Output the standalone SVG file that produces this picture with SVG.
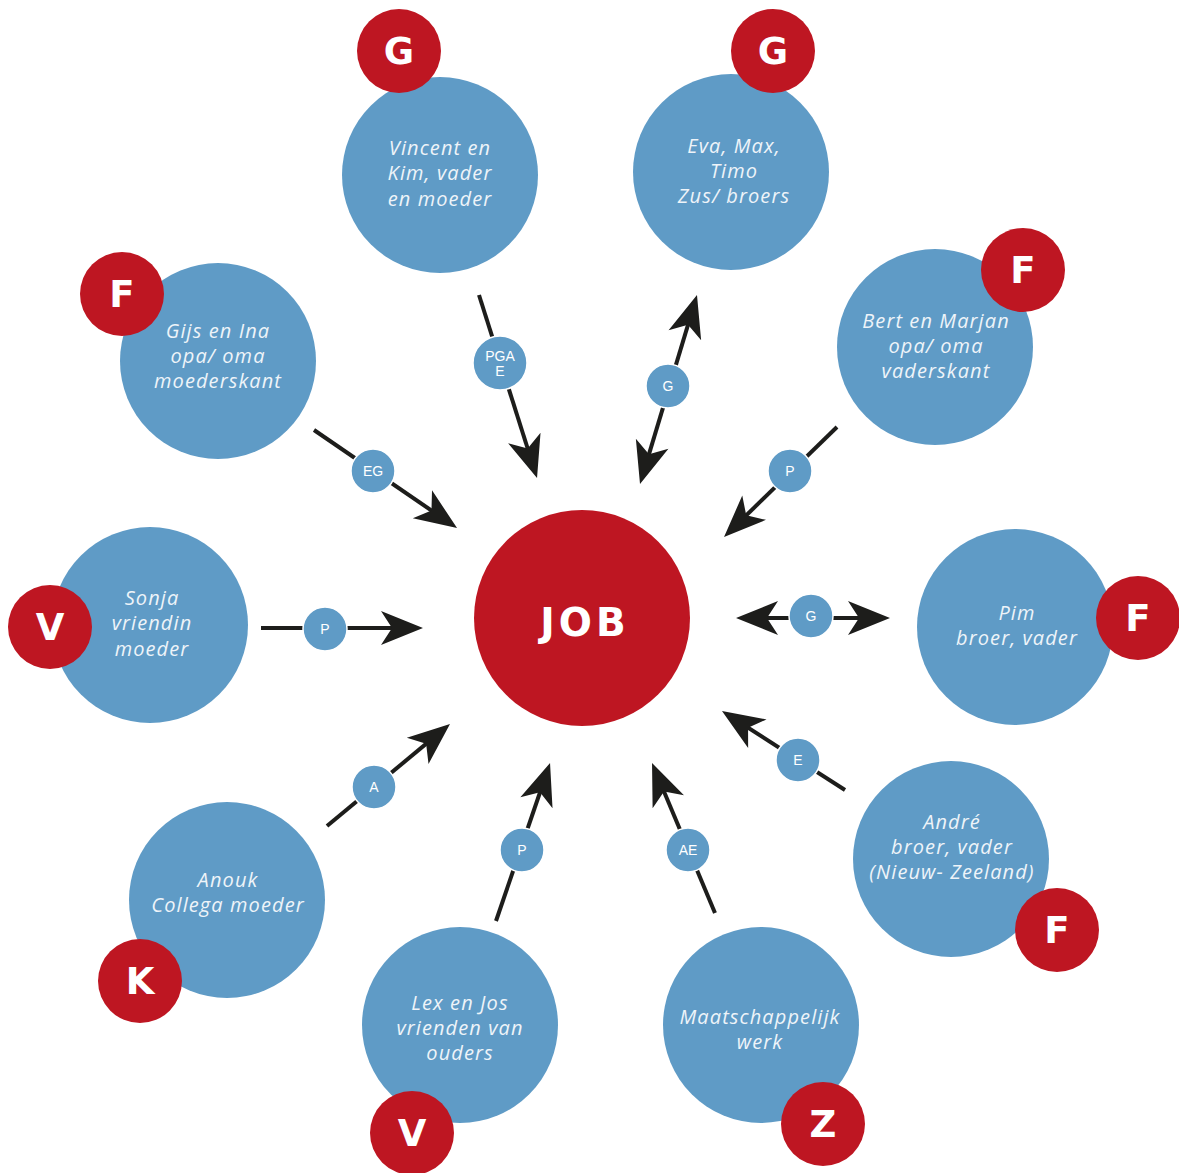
<svg xmlns="http://www.w3.org/2000/svg" width="1179" height="1173" viewBox="0 0 1179 1173">
<style>
.node{fill:#5f9bc6}
.badge{fill:#be1622}
.job{fill:#be1622}
.nt{font-family:"Open Sans","Noto Sans",sans-serif;font-style:italic;font-size:20px;fill:#eef4f9;text-anchor:middle;letter-spacing:1.1px}
.bt{font-family:"DejaVu Sans","Liberation Sans",sans-serif;font-weight:bold;font-size:37px;fill:#ffffff;text-anchor:middle}
.jt{font-family:"DejaVu Sans","Liberation Sans",sans-serif;font-weight:bold;font-size:39px;fill:#ffffff;text-anchor:middle;letter-spacing:4px}
.conn line{stroke:#1d1d1b;stroke-width:4;fill:none}
.lbl{fill:#5f9bc6;stroke:#ffffff;stroke-width:1.5}
.lt{font-family:"Liberation Sans","Open Sans",sans-serif;font-size:14px;fill:#ffffff;text-anchor:middle}
</style>
<defs>
<marker id="ah" viewBox="-44 -19 46 38" refX="-10" refY="0" markerWidth="46" markerHeight="38" markerUnits="userSpaceOnUse" orient="auto-start-reverse">
<path d="M0,0 L-42,-17 L-31,0 L-42,17 Z" fill="#1d1d1b"/>
</marker>
</defs>
<rect width="1179" height="1173" fill="#ffffff"/>

<g id="connectors" class="conn">
<g id="c-vincent"><line x1="479" y1="295" x2="534" y2="468.5" marker-end="url(#ah)"/><circle class="lbl" cx="500" cy="363" r="27"/><text class="lt" x="500" y="361">PGA</text><text class="lt" x="500" y="376">E</text></g>
<g id="c-eva"><line x1="642.9" y1="474.4" x2="694.1" y2="304.6" marker-start="url(#ah)" marker-end="url(#ah)"/><circle class="lbl" cx="668" cy="386" r="22"/><text class="lt" x="668" y="391">G</text></g>
<g id="c-bert"><line x1="837" y1="427" x2="731.2" y2="530" marker-end="url(#ah)"/><circle class="lbl" cx="790" cy="471" r="22"/><text class="lt" x="790" y="476">P</text></g>
<g id="c-pim"><line x1="746" y1="618" x2="880" y2="618" marker-start="url(#ah)" marker-end="url(#ah)"/><circle class="lbl" cx="811" cy="616" r="22"/><text class="lt" x="811" y="621">G</text></g>
<g id="c-andre"><line x1="845" y1="790" x2="730.4" y2="716.4" marker-end="url(#ah)"/><circle class="lbl" cx="798" cy="760" r="22"/><text class="lt" x="798" y="765">E</text></g>
<g id="c-maats"><line x1="715" y1="913" x2="655.9" y2="772.2" marker-end="url(#ah)"/><circle class="lbl" cx="688" cy="850" r="22"/><text class="lt" x="688" y="855">AE</text></g>
<g id="c-lex"><line x1="496" y1="921" x2="546.8" y2="772.5" marker-end="url(#ah)"/><circle class="lbl" cx="522" cy="850" r="22"/><text class="lt" x="522" y="855">P</text></g>
<g id="c-anouk"><line x1="327" y1="826" x2="442.3" y2="730.4" marker-end="url(#ah)"/><circle class="lbl" cx="374" cy="787" r="22"/><text class="lt" x="374" y="792">A</text></g>
<g id="c-sonja"><line x1="261" y1="628" x2="413" y2="628" marker-end="url(#ah)"/><circle class="lbl" cx="325" cy="629" r="22"/><text class="lt" x="325" y="634">P</text></g>
<g id="c-gijs"><line x1="314" y1="430" x2="448.8" y2="522.4" marker-end="url(#ah)"/><circle class="lbl" cx="373" cy="471" r="22"/><text class="lt" x="373" y="476">EG</text></g>
</g>

<g id="job"><circle class="job" cx="582" cy="618" r="108"/><text class="jt" x="585" y="636">JOB</text></g>

<g id="vincent"><circle class="node" cx="440" cy="175" r="98"/><text class="nt" x="440" y="155">Vincent en</text><text class="nt" x="440" y="180">Kim, vader</text><text class="nt" x="440" y="206">en moeder</text><circle class="badge" cx="399" cy="51" r="42"/><text class="bt" x="399" y="64">G</text></g>
<g id="eva"><circle class="node" cx="731" cy="172" r="98"/><text class="nt" x="734" y="153">Eva, Max,</text><text class="nt" x="734" y="178">Timo</text><text class="nt" x="734" y="203">Zus/ broers</text><circle class="badge" cx="773" cy="51" r="42"/><text class="bt" x="773" y="64">G</text></g>
<g id="bert"><circle class="node" cx="935" cy="347" r="98"/><text class="nt" x="936" y="328">Bert en Marjan</text><text class="nt" x="936" y="353">opa/ oma</text><text class="nt" x="936" y="378">vaderskant</text><circle class="badge" cx="1023" cy="270" r="42"/><text class="bt" x="1023" y="283">F</text></g>
<g id="pim"><circle class="node" cx="1015" cy="627" r="98"/><text class="nt" x="1017" y="620">Pim</text><text class="nt" x="1017" y="645">broer, vader</text><circle class="badge" cx="1138" cy="618" r="42"/><text class="bt" x="1138" y="631">F</text></g>
<g id="andre"><circle class="node" cx="951" cy="859" r="98"/><text class="nt" x="952" y="829">André</text><text class="nt" x="952" y="854">broer, vader</text><text class="nt" x="952" y="879">(Nieuw- Zeeland)</text><circle class="badge" cx="1057" cy="930" r="42"/><text class="bt" x="1057" y="943">F</text></g>
<g id="maats"><circle class="node" cx="761" cy="1025" r="98"/><text class="nt" x="760" y="1024">Maatschappelijk</text><text class="nt" x="760" y="1049">werk</text><circle class="badge" cx="823" cy="1124" r="42"/><text class="bt" x="823" y="1137">Z</text></g>
<g id="lex"><circle class="node" cx="460" cy="1025" r="98"/><text class="nt" x="460" y="1010">Lex en Jos</text><text class="nt" x="460" y="1035">vrienden van</text><text class="nt" x="460" y="1060">ouders</text><circle class="badge" cx="412" cy="1133" r="42"/><text class="bt" x="412" y="1146">V</text></g>
<g id="anouk"><circle class="node" cx="227" cy="900" r="98"/><text class="nt" x="228" y="887">Anouk</text><text class="nt" x="228" y="912">Collega moeder</text><circle class="badge" cx="140" cy="981" r="42"/><text class="bt" x="140" y="994">K</text></g>
<g id="sonja"><circle class="node" cx="150" cy="625" r="98"/><text class="nt" x="152" y="605">Sonja</text><text class="nt" x="152" y="630">vriendin</text><text class="nt" x="152" y="656">moeder</text><circle class="badge" cx="50" cy="627" r="42"/><text class="bt" x="50" y="640">V</text></g>
<g id="gijs"><circle class="node" cx="218" cy="361" r="98"/><text class="nt" x="218" y="338">Gijs en Ina</text><text class="nt" x="218" y="363">opa/ oma</text><text class="nt" x="218" y="388">moederskant</text><circle class="badge" cx="122" cy="294" r="42"/><text class="bt" x="122" y="307">F</text></g>
</svg>
